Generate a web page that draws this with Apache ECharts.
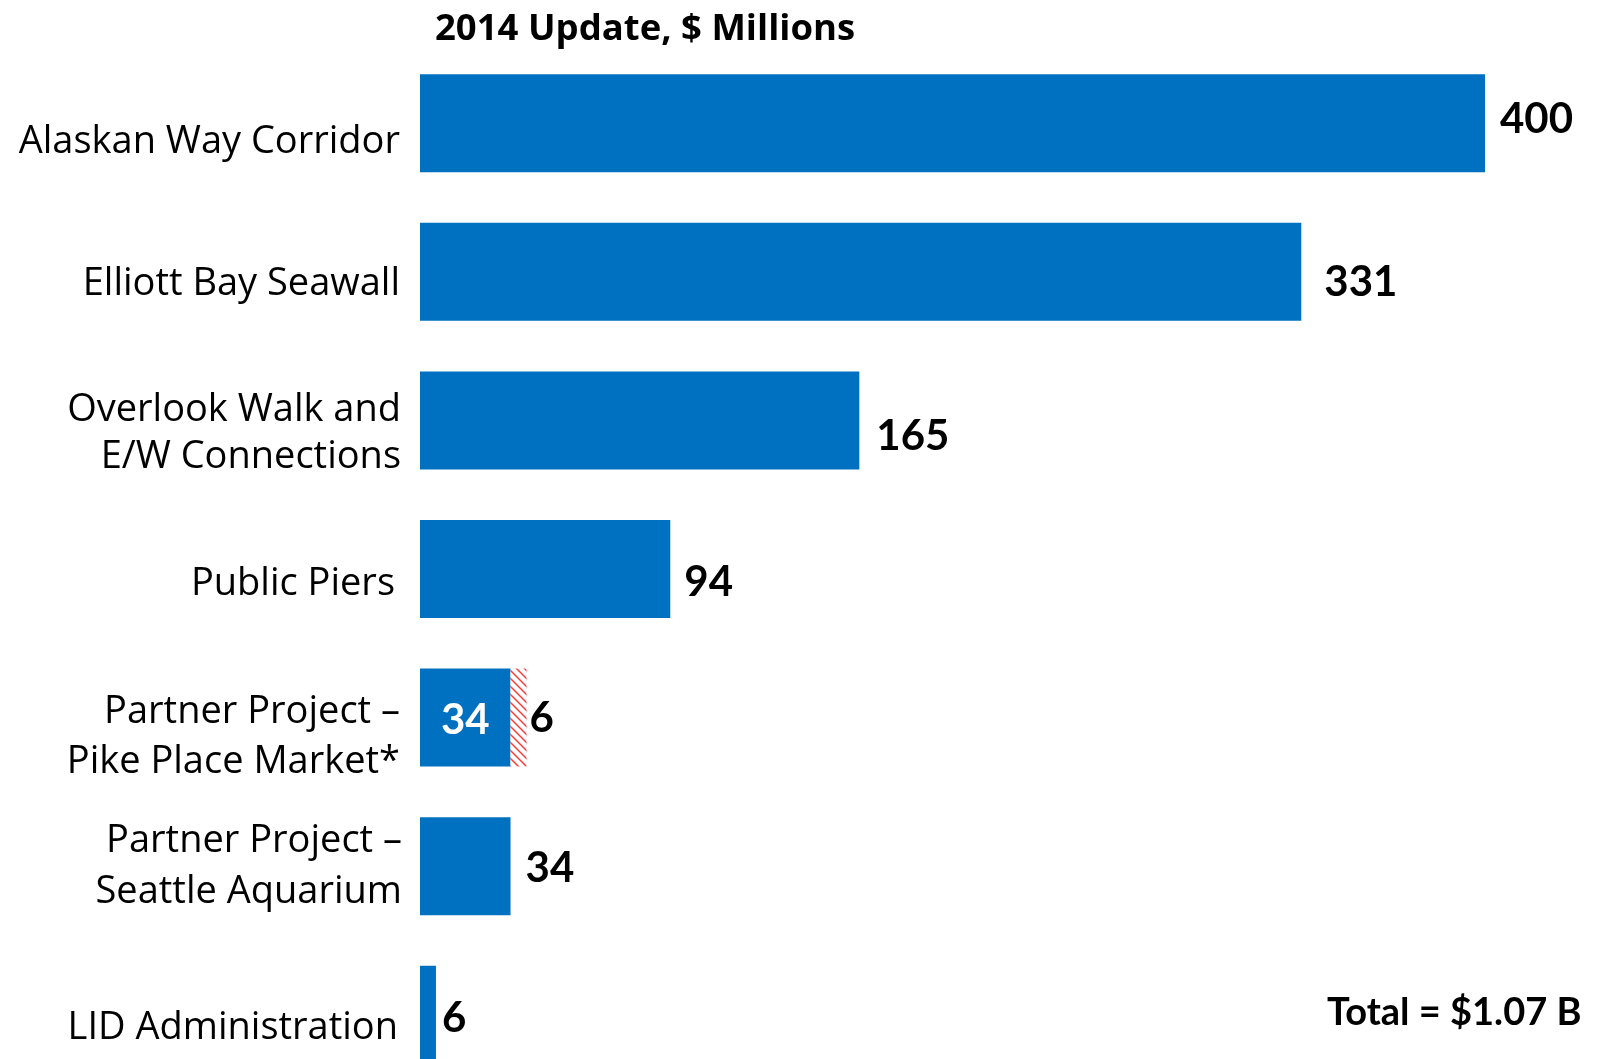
<!DOCTYPE html>
<html>
<head>
<meta charset="utf-8">
<script src="https://cdn.jsdelivr.net/npm/echarts@6/dist/echarts.min.js"></script>
<style>
html,body{margin:0;padding:0;background:#fff;}
#chart{width:1598px;height:1059px;}
</style>
</head>
<body>
<div id="chart"></div>
<script>
// ---- data ----
const categories = [
  'Alaskan Way Corridor',
  'Elliott Bay Seawall',
  'Overlook Walk and\nE/W Connections',
  'Public Piers',
  'Partner Project \u2013\nPike Place Market*',
  'Partner Project \u2013\nSeattle Aquarium',
  'LID Administration'
];
const fundedValues = [400, 331, 165, 94, 34, 34, 6];
const additionalValues = [null, null, null, null, 6, null, null];
const titleText = '2014 Update, $ Millions';
const totalText = 'Total = $1.07 B';

// ---- styling (label nudges per row: [dx, dy]) ----
const catShift = [[0, 19], [0, 12], [1, 13], [-5, 15], [0, 20], [2, 1], [-2, 13]];
const catLineHeight = [49, 49, 47, 49, 50, 51, 49];
const valShift = [[15, -4], [23, 11], [17, 16], [14, 13], [0, 0], [15, 2], [6, 4]];
const BLUE = '#0070C0';

const pc = document.createElement('canvas');
pc.width = 8; pc.height = 8;
const g = pc.getContext('2d');
g.fillStyle = '#fff'; g.fillRect(0, 0, 8, 8);
g.strokeStyle = '#FF3A3A'; g.lineWidth = 1.5;
g.beginPath();
g.moveTo(-4, -4); g.lineTo(12, 12);
g.moveTo(-4, 4); g.lineTo(4, 12);
g.moveTo(4, -4); g.lineTo(12, 4);
g.stroke();

const valFont = { fontFamily: 'Lato', fontWeight: 'bold', fontSize: 42, color: '#000' };

const fundedData = fundedValues.map((v, i) => {
  if (additionalValues[i] != null) {
    return { value: v, label: { show: true, position: 'inside', offset: [0, 3], color: '#fff', fontFamily: 'Lato', fontWeight: 'bold', fontSize: 42 } };
  }
  return { value: v, label: { show: true, position: 'right', distance: 0, offset: valShift[i], ...valFont } };
});
const addData = additionalValues.map((v, i) => v == null ? null : {
  value: v, label: { show: true, position: 'right', distance: 0, offset: [3, 1], ...valFont }
});

// zero-length carrier bars whose labels draw the category names left of the axis
const nameData = categories.map((c, i) => ({
  value: 0,
  label: { offset: [catShift[i][0], catShift[i][1]], lineHeight: catLineHeight[i] }
}));

const chart = echarts.init(document.getElementById('chart'), null, { renderer: 'canvas' });
chart.setOption({
  animation: false,
  backgroundColor: '#fff',
  grid: { left: 420, top: 49, width: 1065, height: 1040, containLabel: false, outerBoundsMode: 'none' },
  xAxis: { type: 'value', min: 0, max: 400, show: false },
  yAxis: {
    type: 'category', inverse: true, data: categories,
    axisLine: { show: false }, axisTick: { show: false }, splitLine: { show: false },
    axisLabel: { show: false }
  },
  series: [
    {
      type: 'bar', stack: 't', barWidth: 98, data: nameData, silent: true,
      itemStyle: { color: 'rgba(0,0,0,0)' },
      label: {
        show: true, position: 'left', distance: 20, align: 'right', verticalAlign: 'middle',
        fontFamily: 'Open Sans', fontSize: 38, color: '#000',
        formatter: p => p.name
      }
    },
    { type: 'bar', stack: 't', barWidth: 98, data: fundedData, itemStyle: { color: BLUE } },
    { type: 'bar', stack: 't', barWidth: 98, data: addData, itemStyle: { color: { image: pc, repeat: 'repeat' } } }
  ],
  graphic: [
    { type: 'text', left: 435, top: 11, style: { text: titleText, fontFamily: 'Open Sans', fontWeight: 'bold', fontSize: 36.5, fill: '#000' } },
    { type: 'text', left: 1327, top: 994, style: { text: totalText, fontFamily: 'Lato', fontWeight: 'bold', fontSize: 38, fill: '#000' } }
  ]
});
</script>
</body>
</html>
